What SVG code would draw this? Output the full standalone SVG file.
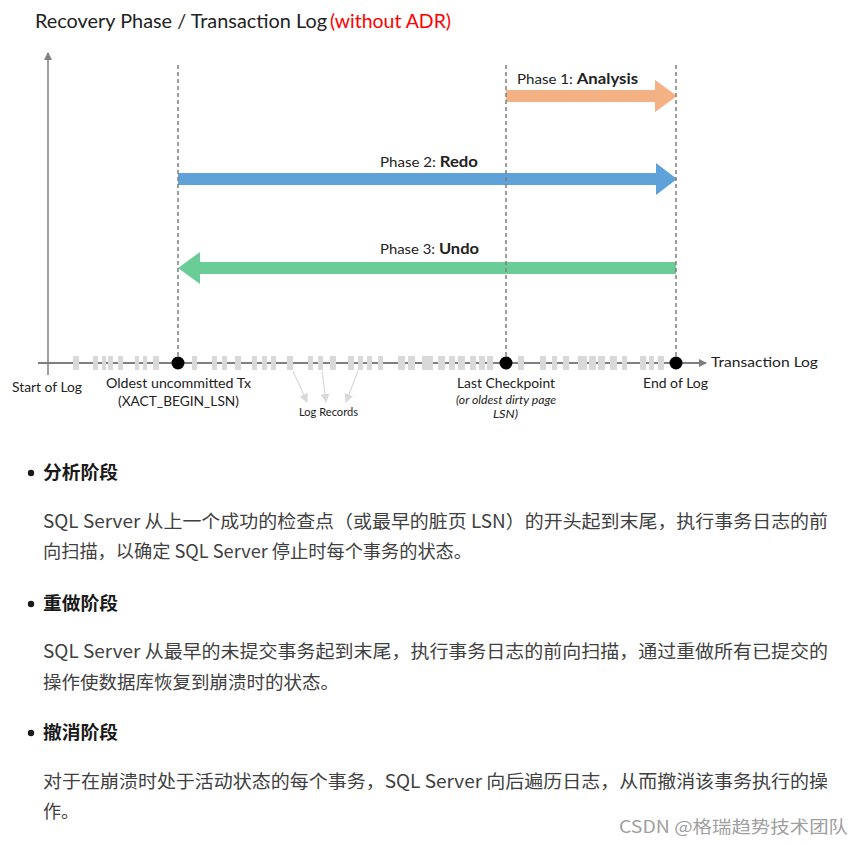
<svg xmlns="http://www.w3.org/2000/svg" width="865" height="845" viewBox="0 0 865 845">
<style>
.lbl{font-family:Lato,"Open Sans","Liberation Sans",sans-serif;fill:#222}
.it{font-style:italic}
.b{font-weight:bold}
.cn{font-family:"Noto Sans CJK SC","Noto Sans",sans-serif;font-size:18px;fill:#404040}
.cnh{font-family:"Noto Sans CJK SC","Noto Sans",sans-serif;font-size:18px;font-weight:bold;fill:#1a1a1a}
.dash{stroke:#7f7f7f;stroke-width:1.5;stroke-dasharray:4 3;fill:none}
.blk{fill:#d9d9d9}
.ptr{stroke:#d9d9d9;stroke-width:1.2;fill:none}
</style>
<defs>
<marker id="ah" markerWidth="8" markerHeight="8" refX="7" refY="4" orient="auto" markerUnits="userSpaceOnUse">
<path d="M0,0 L8,4 L0,8 Z" fill="#7f7f7f"/>
</marker>
<marker id="ahl" markerWidth="9" markerHeight="9" refX="8" refY="4.5" orient="auto" markerUnits="userSpaceOnUse">
<path d="M0,0 L9,4.5 L0,9 Z" fill="#d9d9d9"/>
</marker>
</defs>
<rect width="865" height="845" fill="#fff"/>

<g id="title">
<text class="lbl" x="35" y="28" font-size="18.5" textLength="292" lengthAdjust="spacingAndGlyphs">Recovery Phase / Transaction Log</text>
<text x="330" y="28" font-size="18.5" font-family="Lato,'Open Sans','Liberation Sans',sans-serif" fill="#ff0000" textLength="121" lengthAdjust="spacingAndGlyphs">(without ADR)</text>
</g>

<g id="axes">
<line x1="48" y1="375" x2="48" y2="53" stroke="#7f7f7f" stroke-width="1.5" marker-end="url(#ah)"/>
<line x1="38" y1="363" x2="706" y2="363" stroke="#7f7f7f" stroke-width="1.8" marker-end="url(#ah)"/>
</g>

<g id="log-records">
<rect class="blk" x="73" y="356" width="6" height="14"/>
<rect class="blk" x="93" y="356" width="5" height="14"/>
<rect class="blk" x="102" y="356" width="4" height="14"/>
<rect class="blk" x="108" y="356" width="5" height="14"/>
<rect class="blk" x="118" y="356" width="5" height="14"/>
<rect class="blk" x="135" y="356" width="4" height="14"/>
<rect class="blk" x="143" y="356" width="4" height="14"/>
<rect class="blk" x="153" y="356" width="6" height="14"/>
<rect class="blk" x="192" y="356" width="5" height="14"/>
<rect class="blk" x="212" y="356" width="5" height="14"/>
<rect class="blk" x="222" y="356" width="5" height="14"/>
<rect class="blk" x="235" y="356" width="6" height="14"/>
<rect class="blk" x="252" y="356" width="5" height="14"/>
<rect class="blk" x="262" y="356" width="5" height="14"/>
<rect class="blk" x="271" y="356" width="5" height="14"/>
<rect class="blk" x="287" y="356" width="6" height="14"/>
<rect class="blk" x="308" y="356" width="5" height="14"/>
<rect class="blk" x="318" y="356" width="5" height="14"/>
<rect class="blk" x="330" y="356" width="6" height="14"/>
<rect class="blk" x="348" y="356" width="6" height="14"/>
<rect class="blk" x="358" y="356" width="5" height="14"/>
<rect class="blk" x="367" y="356" width="5" height="14"/>
<rect class="blk" x="378" y="356" width="5" height="14"/>
<rect class="blk" x="398" y="356" width="7" height="14"/>
<rect class="blk" x="408" y="356" width="7" height="14"/>
<rect class="blk" x="422" y="356" width="11" height="14"/>
<rect class="blk" x="438" y="356" width="7" height="14"/>
<rect class="blk" x="449" y="356" width="6" height="14"/>
<rect class="blk" x="458" y="356" width="7" height="14"/>
<rect class="blk" x="470" y="356" width="6" height="14"/>
<rect class="blk" x="479" y="356" width="6" height="14"/>
<rect class="blk" x="487" y="356" width="6" height="14"/>
<rect class="blk" x="518" y="356" width="6" height="14"/>
<rect class="blk" x="540" y="356" width="6" height="14"/>
<rect class="blk" x="552" y="356" width="5" height="14"/>
<rect class="blk" x="563" y="356" width="6" height="14"/>
<rect class="blk" x="578" y="356" width="9" height="14"/>
<rect class="blk" x="589" y="356" width="7" height="14"/>
<rect class="blk" x="598" y="356" width="7" height="14"/>
<rect class="blk" x="610" y="356" width="7" height="14"/>
<rect class="blk" x="622" y="356" width="5" height="14"/>
<rect class="blk" x="640" y="356" width="6" height="14"/>
<rect class="blk" x="649" y="356" width="5" height="14"/>
<rect class="blk" x="658" y="356" width="6" height="14"/>
<line class="ptr" x1="293" y1="371" x2="307" y2="402" marker-end="url(#ahl)"/>
<line class="ptr" x1="322" y1="371" x2="326" y2="402" marker-end="url(#ahl)"/>
<line class="ptr" x1="358" y1="371" x2="346" y2="402" marker-end="url(#ahl)"/>
<text class="lbl" x="299" y="416" font-size="10.5" textLength="59" lengthAdjust="spacingAndGlyphs">Log Records</text>
</g>

<g id="connectors">
<polygon id="phase1-arrow" points="506,90 655,90 655,80 677,96 655,112 655,102 506,102" fill="#f4b183"/>
<polygon id="phase2-arrow" points="178,173 656,173 656,163 677,179 656,195 656,185 178,185" fill="#5fa2d9"/>
<polygon id="phase3-arrow" points="676,262 200,262 200,252 178,268 200,284 200,274 676,274" fill="#6acd98"/>
<line class="dash" x1="178" y1="65" x2="178" y2="357"/>
<line class="dash" x1="506" y1="65" x2="506" y2="357"/>
<line class="dash" x1="676" y1="65" x2="676" y2="357"/>
</g>

<g id="phase1">
<text class="lbl" x="517" y="84" font-size="14" textLength="121" lengthAdjust="spacingAndGlyphs">Phase 1: <tspan class="b" font-size="15.5">Analysis</tspan></text>
</g>
<g id="phase2">
<text class="lbl" x="380" y="167" font-size="14" textLength="98" lengthAdjust="spacingAndGlyphs">Phase 2: <tspan class="b" font-size="15.5">Redo</tspan></text>
</g>
<g id="phase3">
<text class="lbl" x="380" y="254" font-size="14" textLength="99" lengthAdjust="spacingAndGlyphs">Phase 3: <tspan class="b" font-size="15.5">Undo</tspan></text>
</g>

<g id="start-of-log">
<text class="lbl" x="12" y="392" font-size="14" textLength="70" lengthAdjust="spacingAndGlyphs">Start of Log</text>
</g>
<g id="oldest-uncommitted">
<circle cx="178" cy="363" r="6.5" fill="#000"/>
<text class="lbl" x="106" y="388" font-size="14" textLength="145" lengthAdjust="spacingAndGlyphs">Oldest uncommitted Tx</text>
<text class="lbl" x="118" y="406" font-size="14" textLength="121" lengthAdjust="spacingAndGlyphs">(XACT_BEGIN_LSN)</text>
</g>
<g id="last-checkpoint">
<circle cx="506" cy="363" r="6.5" fill="#000"/>
<text class="lbl" x="457" y="388" font-size="14" textLength="98" lengthAdjust="spacingAndGlyphs">Last Checkpoint</text>
<text class="lbl it" x="456" y="404" font-size="10.5" textLength="100" lengthAdjust="spacingAndGlyphs">(or oldest dirty page</text>
<text class="lbl it" x="493" y="418" font-size="10.5" textLength="25" lengthAdjust="spacingAndGlyphs">LSN)</text>
</g>
<g id="end-of-log">
<circle cx="676" cy="363" r="6.5" fill="#000"/>
<text class="lbl" x="643" y="388" font-size="14" textLength="65" lengthAdjust="spacingAndGlyphs">End of Log</text>
</g>
<g id="transaction-log">
<text class="lbl" x="711" y="367" font-size="14" textLength="107" lengthAdjust="spacingAndGlyphs">Transaction Log</text>
</g>

<g id="notes">
<circle cx="31" cy="473" r="3.2" fill="#1a1a1a"/>
<text class="cnh" x="43" y="479" textLength="75" lengthAdjust="spacingAndGlyphs">分析阶段</text>
<text class="cn" x="43" y="528" textLength="785" lengthAdjust="spacingAndGlyphs">SQL Server 从上一个成功的检查点（或最早的脏页 LSN）的开头起到末尾，执行事务日志的前</text>
<text class="cn" x="43" y="558" textLength="429" lengthAdjust="spacingAndGlyphs">向扫描，以确定 SQL Server 停止时每个事务的状态。</text>
<circle cx="31" cy="604" r="3.2" fill="#1a1a1a"/>
<text class="cnh" x="43" y="610" textLength="75" lengthAdjust="spacingAndGlyphs">重做阶段</text>
<text class="cn" x="43" y="658" textLength="785" lengthAdjust="spacingAndGlyphs">SQL Server 从最早的未提交事务起到末尾，执行事务日志的前向扫描，通过重做所有已提交的</text>
<text class="cn" x="43" y="689" textLength="296" lengthAdjust="spacingAndGlyphs">操作使数据库恢复到崩溃时的状态。</text>
<circle cx="31" cy="733" r="3.2" fill="#1a1a1a"/>
<text class="cnh" x="43" y="739" textLength="75" lengthAdjust="spacingAndGlyphs">撤消阶段</text>
<text class="cn" x="43" y="788" textLength="785" lengthAdjust="spacingAndGlyphs">对于在崩溃时处于活动状态的每个事务，SQL Server 向后遍历日志，从而撤消该事务执行的操</text>
<text class="cn" x="43" y="818">作。</text>
<text x="619" y="833" font-family="'Noto Sans CJK SC','Liberation Sans',sans-serif" font-size="17" fill="#a0a0a0" textLength="229" lengthAdjust="spacingAndGlyphs">CSDN @格瑞趋势技术团队</text>
</g>
</svg>
